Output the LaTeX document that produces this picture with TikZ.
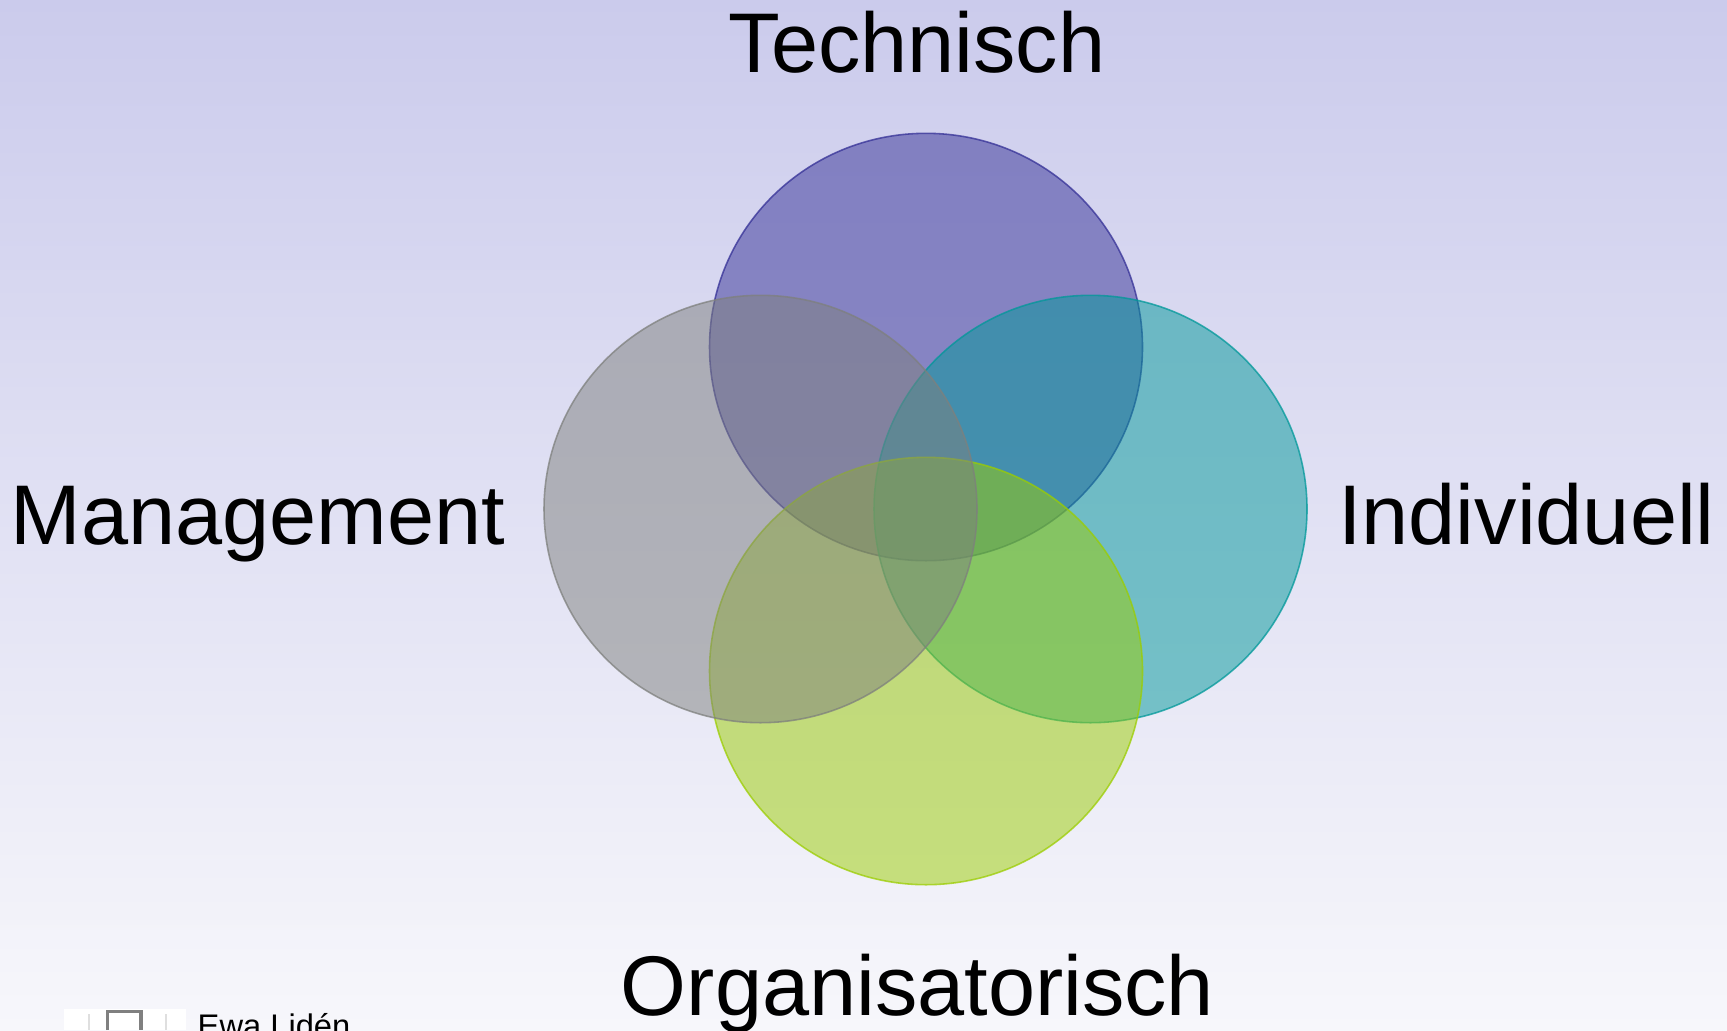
\documentclass[tikz,border=0pt]{standalone}
\usepackage{fontspec}
\setmainfont{Liberation Sans}
\usetikzlibrary{positioning}
\definecolor{SkyTop}{HTML}{CBCBEC}
\definecolor{SkyLow}{HTML}{F7F7FB}
\definecolor{TechBlue}{HTML}{343096}
\definecolor{IndTeal}{HTML}{009899}
\definecolor{OrgGreen}{HTML}{9BCD01}
\definecolor{MgmtGray}{HTML}{7E807D}

\begin{document}
\begin{tikzpicture}[x=1cm,y=1cm,
    venn/.style={fill opacity=0.5,draw opacity=0.75,line width=0.45pt},
    lbl/.style={font=\fontsize{24.1}{29}\selectfont,anchor=base,inner sep=0pt}]
    \clip (0,0) rectangle (17.27,-10.30);
    \useasboundingbox (0,0) rectangle (17.27,-10.30);
    \shade[top color=SkyTop,bottom color=SkyLow] (0,0) rectangle (17.27,-10.30);

    % four circles, drawn clockwise from the top
    \foreach \cx/\cy/\col in {9.26/-3.47/TechBlue,10.905/-5.09/IndTeal,9.26/-6.71/OrgGreen,7.605/-5.09/MgmtGray} {
      \draw[venn,fill=\col,draw=\col] (\cx,\cy) ellipse (2.165 and 2.137);
    }

    \node[lbl] (technisch) at (9.17,-0.725) {Technisch};
    \node[lbl] (management) at (2.58,-5.44) {Management};
    \node[lbl] (individuell) at (15.265,-5.44) {Individuell};
    \node[lbl] (organisatorisch) at (9.175,-10.155) {Organisatorisch};

    % footer logo and name
    \fill[white] (0.64,-10.09) rectangle (1.86,-10.30);
    \draw[gray,line width=0.9pt] (1.075,-10.30) -- (1.075,-10.115) -- (1.41,-10.115) -- (1.41,-10.30);
    \draw[gray!25,line width=0.6pt] (0.89,-10.14) -- (0.89,-10.30);
    \draw[gray!25,line width=0.6pt] (1.66,-10.14) -- (1.66,-10.30);
    \node[anchor=base west,inner sep=0pt,font=\fontsize{9.3}{11}\selectfont] (ewa) at (1.97,-10.375) {Ewa Lidén};
  \end{tikzpicture}
\end{document}
